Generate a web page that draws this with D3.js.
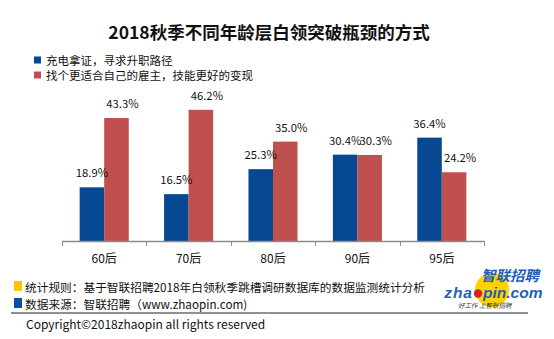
<!DOCTYPE html>
<html>
<head>
<meta charset="utf-8">
<script src="https://cdn.jsdelivr.net/npm/d3@7"></script>
<style>
  html, body { margin: 0; padding: 0; background: #fff; }
  svg { display: block; }
  text { font-family: "Noto Sans CJK SC", "Noto Sans", sans-serif; fill: #111; }
</style>
</head>
<body>
<svg id="chart" width="554" height="339"></svg>
<script>
// Age groups and the two ways of breaking through a career bottleneck (%)
const categories = ["60后", "70后", "80后", "90后", "95后"];
const seriesNames = ["充电拿证，寻求升职路径", "找个更适合自己的雇主，技能更好的变现"];
const certifyValues = [18.9, 16.5, 25.3, 30.4, 36.4];
const switchValues = [43.3, 46.2, 35.0, 30.3, 24.2];
const titleText = "2018秋季不同年龄层白领突破瓶颈的方式";
const footerNotes = [
  "统计规则：基于智联招聘2018年白领秋季跳槽调研数据库的数据监测统计分析",
  "数据来源：智联招聘（www.zhaopin.com)"
];
const copyrightText = "Copyright©2018zhaopin all rights reserved";

const colors = ["#074893", "#C0504D"];
const svg = d3.select("#chart");

// Title
svg.append("text")
  .attr("x", 269).attr("y", 31)
  .attr("text-anchor", "middle").attr("dominant-baseline", "central")
  .style("font-size", "17.5px").style("font-weight", "bold")
  .text(titleText);

// Legend
const legend = svg.append("g");
seriesNames.forEach((name, i) => {
  const y = 60 + i * 15;
  legend.append("rect").attr("x", 34).attr("y", y - 3.5).attr("width", 7).attr("height", 7).attr("fill", colors[i]);
  legend.append("text").attr("x", 46).attr("y", y).attr("dominant-baseline", "central")
    .style("font-size", "11.5px").text(name);
});

// Scales
const baseline = 241;
const x0 = d3.scaleBand().domain(categories).range([62, 484]).paddingInner(0).paddingOuter(0);
const x1 = d3.scaleBand().domain([0, 1]).range([0, x0.bandwidth()]).paddingInner(0).paddingOuter(0.72);
const y = d3.scaleLinear().domain([0, 50]).range([baseline, baseline - 142]);

const rows = categories.map((c, i) => ({ cat: c, vals: [certifyValues[i], switchValues[i]] }));

const groups = svg.append("g").selectAll("g").data(rows).join("g")
  .attr("transform", d => `translate(${x0(d.cat)},0)`);

groups.selectAll("rect").data(d => d.vals.map((v, s) => ({ v, s }))).join("rect")
  .attr("x", d => x1(d.s))
  .attr("width", x1.bandwidth())
  .attr("y", d => y(d.v))
  .attr("height", d => baseline - y(d.v))
  .attr("fill", d => colors[d.s]);

groups.selectAll("text.val").data(d => d.vals.map((v, s) => ({ v, s }))).join("text")
  .attr("class", "val")
  .attr("x", d => x1(d.s) + x1.bandwidth() / 2 + (d.s === 1 ? 6 : 0))
  .attr("y", d => y(d.v) - 15)
  .attr("text-anchor", "middle").attr("dominant-baseline", "central")
  .style("font-size", "11.3px")
  .text(d => d.v.toFixed(1) + "%");

// Category axis with ticks at band boundaries
const axis = svg.append("g");
axis.append("line").attr("x1", 62).attr("x2", 484).attr("y1", baseline + 0.5).attr("y2", baseline + 0.5)
  .attr("stroke", "#8c8c8c").attr("stroke-width", 1.5);
const bounds = categories.map(c => x0(c)).concat([x0.range()[1]]);
axis.selectAll("line.tick").data(bounds).join("line").attr("class", "tick")
  .attr("x1", d => Math.round(d) + 0.5).attr("x2", d => Math.round(d) + 0.5)
  .attr("y1", baseline).attr("y2", baseline + 5)
  .attr("stroke", "#8c8c8c").attr("stroke-width", 1);
axis.selectAll("text").data(categories).join("text")
  .attr("x", d => x0(d) + x0.bandwidth() / 2).attr("y", 257)
  .attr("text-anchor", "middle").attr("dominant-baseline", "central")
  .style("font-size", "12px").text(d => d);

// Footer notes
const noteColors = ["#FFC600", "#0B4EA2"];
footerNotes.forEach((t, i) => {
  const yy = 286 + i * 17;
  svg.append("rect").attr("x", 14).attr("y", yy - 5).attr("width", 8).attr("height", 10).attr("fill", noteColors[i]);
  svg.append("text").attr("x", 25).attr("y", yy).attr("dominant-baseline", "central")
    .style("font-size", "11.7px").text(t);
});

svg.append("line").attr("x1", 11).attr("x2", 528).attr("y1", 313).attr("y2", 313)
  .attr("stroke", "#222").attr("stroke-width", 1.2);
svg.append("text").attr("x", 26).attr("y", 323).attr("dominant-baseline", "central")
  .style("font-size", "12px").text(copyrightText);

// Brand mark
const logo = svg.append("g");
const brandBlue = "#1F5FB5";
const latinBold = sel => sel
  .style("font-family", "'Liberation Sans', Arial, sans-serif")
  .style("font-size", "15.5px").style("font-weight", "bold").style("font-style", "italic")
  .style("fill", brandBlue);
logo.append("circle").attr("cx", 492).attr("cy", 290).attr("r", 17).attr("fill", "#FFD200");
logo.append("text").attr("x", 539).attr("y", 281).attr("text-anchor", "end")
  .style("font-size", "14.5px").style("font-weight", "bold").style("font-style", "italic")
  .style("fill", brandBlue).text("智联招聘");
logo.append("text").attr("x", 473).attr("y", 298).attr("text-anchor", "end")
  .call(latinBold).style("letter-spacing", "1px").text("zha");
logo.append("text").attr("x", 483).attr("y", 298)
  .call(latinBold).text("pin.com");
logo.append("circle").attr("cx", 478).attr("cy", 293.5).attr("r", 4.2).attr("fill", "#D8231F");
logo.append("text").attr("x", 458).attr("y", 307.5)
  .style("font-size", "6.5px").style("font-style", "italic").style("fill", "#333")
  .text("好工作   上智联招聘");
</script>
</body>
</html>
